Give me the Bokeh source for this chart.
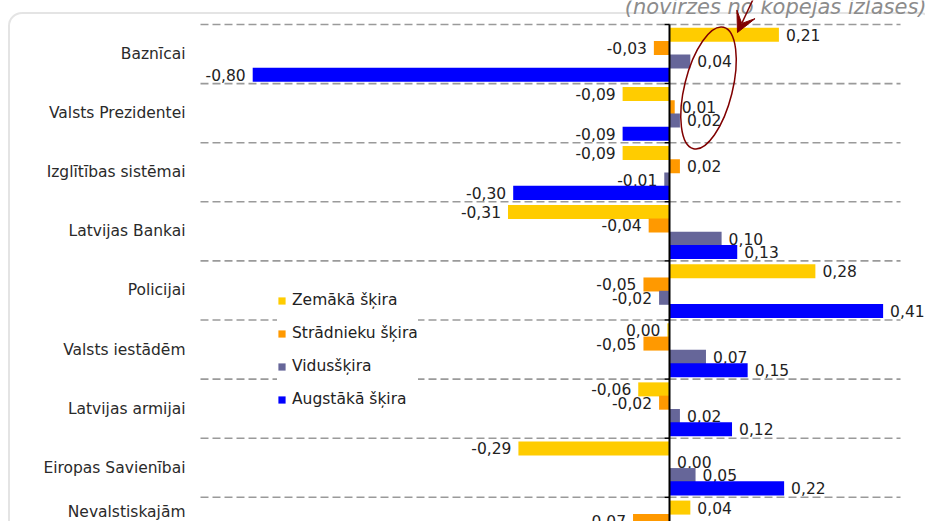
from bokeh.plotting import figure
from bokeh.models import (ColumnDataSource, Range1d, Legend, LegendItem,
                          BoxAnnotation, Arrow, VeeHead, Label)
from bokeh.transform import dodge
from bokeh.embed import file_html
from bokeh.resources import INLINE
from bokeh.core.properties import value

# ---------------- data ----------------
categories = ["Baznīcai", "Valsts Prezidentei", "Izglītības sistēmai", "Latvijas Bankai",
              "Policijai", "Valsts iestādēm", "Latvijas armijai", "Eiropas Savienībai",
              "Nevalstiskajām"]
series_names = ["Zemākā šķira", "Strādnieku šķira", "Vidusšķira", "Augstākā šķira"]
zemaka = [0.21, -0.09, -0.09, -0.31, 0.28, -0.004, -0.06, -0.29, 0.04]
stradnieku = [-0.03, 0.01, 0.02, -0.04, -0.05, -0.05, -0.02, 0.001, -0.07]
vidus = [0.04, 0.02, -0.01, 0.10, -0.02, 0.07, 0.02, 0.05, 0.07]
augstaka = [-0.80, -0.09, -0.30, 0.13, 0.41, 0.15, 0.12, 0.22, None]  # last one not visible
subtitle = "(novirzes no kopējās izlases)"

colors = ["#FFCC00", "#FF9900", "#666699", "#0000FF"]
FONT = "DejaVu Sans"

def fmt(v):
    r = round(v, 2)
    s = f"{abs(r):.2f}".replace(".", ",")
    return "-" + s if r < 0 else s

idx = list(range(len(categories)))

# plot-area limits (value axis) used for grid lines / label anchoring
AREA_LEFT, AREA_RIGHT = -0.9002, 0.4434

p = figure(width=925, height=521, output_backend="svg", toolbar_location=None,
           x_axis_location=None, y_axis_location=None,
           x_range=Range1d(-1.28407, 0.49136), y_range=Range1d(7.9095, -0.9061))
p.min_border = 0
p.min_border_left = 0
p.min_border_right = 0
p.min_border_top = 0
p.min_border_bottom = 0
p.outline_line_color = None
p.background_fill_color = "white"
p.border_fill_color = "white"
p.xgrid.visible = False
p.ygrid.visible = False

# dashed separators between categories
bounds = [i - 0.5 for i in range(len(categories) + 1)]
p.segment(x0=[AREA_LEFT] * len(bounds), y0=bounds, x1=[AREA_RIGHT] * len(bounds), y1=bounds,
          line_color="#9a9a9a", line_width=1.6, line_dash="8 4")

# category labels
cat_src = ColumnDataSource(dict(y=idx[:-1], name=categories[:-1]))
p.text(x=AREA_LEFT, y="y", text="name", source=cat_src, x_offset=-15,
       text_align="right", text_baseline="middle", text_font=value(FONT),
       text_font_size="15.5px", text_color="#2a2a2a")
last_src = ColumnDataSource(dict(y=idx[-1:], name=categories[-1:]))
p.text(x=AREA_LEFT, y="y", text="name", source=last_src, x_offset=-15, y_offset=-6,
       text_align="right", text_baseline="bottom", text_font=value(FONT),
       text_font_size="15.5px", text_color="#2a2a2a")

offsets = [-0.326, -0.101, 0.124, 0.349]
bar_h = 0.237
series_values = [zemaka, stradnieku, vidus, augstaka]
renderers = []
for vals, col, off in zip(series_values, colors, offsets):
    src = ColumnDataSource(dict(y=idx, v=[float("nan") if v is None else v for v in vals]))
    r = p.hbar(y=dodge("y", off), left=0, right="v", height=bar_h,
               fill_color=col, line_color=None, source=src)
    renderers.append(r)
    pos_i = [i for i, v in enumerate(vals) if v is not None and not v < 0]
    neg_i = [i for i, v in enumerate(vals) if v is not None and v < 0]
    for sel, xo, al in ((pos_i, 7, "left"), (neg_i, -7, "right")):
        s2 = ColumnDataSource(dict(y=[idx[i] for i in sel], v=[vals[i] for i in sel],
                                   lab=[fmt(vals[i]) for i in sel]))
        p.text(x="v", y=dodge("y", off), text="lab", source=s2, x_offset=xo,
               text_align=al, text_baseline="middle", text_font_size="15.5px",
               text_font=value(FONT), text_color="#222222")

# zero axis with tick marks
p.segment(x0=[0], y0=[bounds[0]], x1=[0], y1=[bounds[-1]], line_color="black", line_width=2)
p.segment(x0=[-5 / 521] * len(bounds), y0=bounds, x1=[0] * len(bounds), y1=bounds,
          line_color="black", line_width=1.5)

# legend
legend = Legend(items=[LegendItem(label=n, renderers=[r]) for n, r in zip(series_names, renderers)],
                location=(277, 112), orientation="vertical",
                glyph_width=9, glyph_height=9, label_standoff=6,
                label_height=20, spacing=13, padding=10, margin=0,
                background_fill_color="white", background_fill_alpha=1.0,
                border_line_color=None,
                label_text_font=FONT, label_text_font_size="15.5px", label_text_color="#222222")
p.add_layout(legend)

# rounded outer frame
frame = BoxAnnotation(left=8.5, right=932, top=12.5, bottom=700,
                      left_units="canvas", right_units="canvas",
                      top_units="canvas", bottom_units="canvas",
                      fill_color=None, line_color="#a4a4a4", line_width=2,
                      border_radius=13)
p.add_layout(frame)

# subtitle (cut at the top as in the source)
p.add_layout(Label(x=0.4933, y=-0.7961, text=subtitle, text_align="right",
                   text_baseline="alphabetic", text_font=FONT, text_font_style="italic",
                   text_font_size="21px", text_color="#8c8c8c"))

# red annotation: ellipse + arrow
p.ellipse(x=[0.0749], y=[0.5745], width=48, height=125, width_units="screen",
          height_units="screen", angle=-0.243, fill_color=None,
          line_color="#800000", line_width=1.5)
p.add_layout(Arrow(end=VeeHead(size=20, fill_color="#7f0000", line_color="#7f0000"),
                   x_start=0.1683, y_start=-1.0753, x_end=0.1305, y_end=-0.3646,
                   line_color="#7f0000", line_width=1.5))

open("out.html", "w").write(file_html(p, INLINE))
